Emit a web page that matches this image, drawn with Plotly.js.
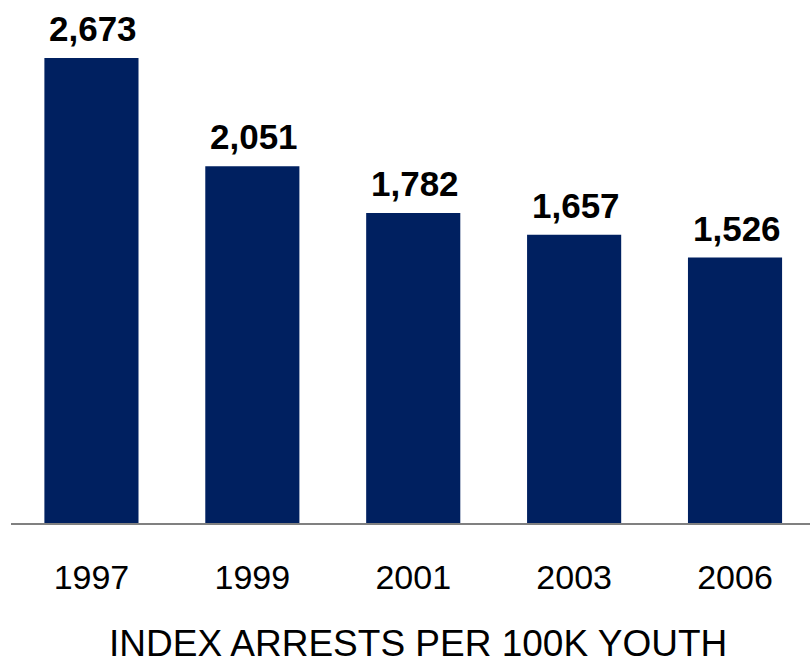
<!DOCTYPE html>
<html>
<head>
<meta charset="utf-8">
<script src="https://cdn.plot.ly/plotly-3.0.1.min.js"></script>
<style>html,body{margin:0;padding:0;background:#fff}#chart{width:810px;height:663px}</style>
</head>
<body>
<div id="chart"></div>
<script>
const years = ['1997', '1999', '2001', '2003', '2006'];
const arrests = [2673, 2051, 1782, 1657, 1526];
const xTitle = 'INDEX ARRESTS PER 100K YOUTH';

const fmt = v => v.toLocaleString('en-US');

const trace = {
  type: 'bar',
  x: years,
  y: arrests,
  width: 0.585,
  marker: {color: '#002060', line: {width: 0}},
  hoverinfo: 'none'
};

const annotations = years.map((yr, i) => ({
  x: i, y: arrests[i], xref: 'x', yref: 'y',
  text: '<b>' + fmt(arrests[i]) + '</b>',
  showarrow: false, yanchor: 'bottom', yshift: 8, xshift: 2,
  font: {family: 'Liberation Sans, Arial, sans-serif', size: 35, color: '#000'}
}));
annotations.push({
  xref: 'paper', yref: 'paper', x: 0.5, y: 0, xshift: 7, yshift: -120,
  yanchor: 'middle', showarrow: false, text: xTitle,
  font: {family: 'Liberation Sans, Arial, sans-serif', size: 37, color: '#000'}
});

const layout = {
  width: 810, height: 663,
  margin: {l: 11, r: 0, t: 0, b: 140, pad: 0},
  paper_bgcolor: '#fff', plot_bgcolor: '#fff',
  showlegend: false,
  xaxis: {
    type: 'category', range: [-0.5, 4.466],
    showline: true, linecolor: '#808080', linewidth: 1.5,
    showgrid: false, zeroline: false, ticks: '',
    ticklabelstandoff: 24,
    tickfont: {family: 'Liberation Sans, Arial, sans-serif', size: 34, color: '#000'},
    fixedrange: true
  },
  yaxis: {
    range: [0, 3007], visible: false, showgrid: false, zeroline: false, fixedrange: true
  },
  annotations: annotations
};

Plotly.newPlot('chart', [trace], layout, {displayModeBar: false, staticPlot: true});
</script>
</body>
</html>
